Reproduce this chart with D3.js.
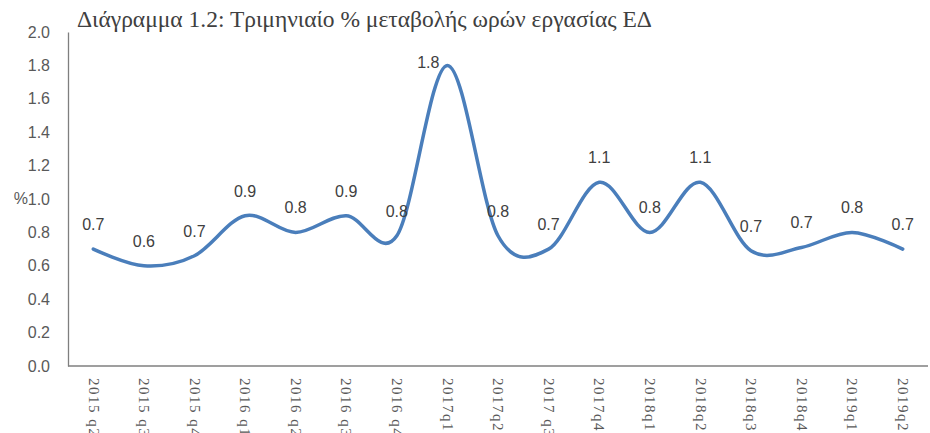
<!DOCTYPE html>
<html>
<head>
<meta charset="utf-8">
<script src="https://cdn.jsdelivr.net/npm/d3@7"></script>
<style>
  body { margin: 0; background: #fff; }
  svg { display: block; }
</style>
</head>
<body>
<div id="chart"></div>
<script>
const width = 930, height = 433;

// data
const quarters = ["2015 q2", "2015 q3", "2015 q4", "2016 q1", "2016 q2", "2016 q3", "2016 q4",
  "2017q1", "2017q2", "2017 q3", "2017q4", "2018q1", "2018q2", "2018q3", "2018q4", "2019q1", "2019q2"];
const hoursChange = [0.70, 0.60, 0.66, 0.90, 0.80, 0.90, 0.78, 1.80, 0.78, 0.70, 1.10, 0.80, 1.10, 0.69, 0.71, 0.80, 0.70];
const yTicks = [0, 0.2, 0.4, 0.6, 0.8, 1.0, 1.2, 1.4, 1.6, 1.8, 2.0];
const title = "Διάγραμμα 1.2: Τριμηνιαίο % μεταβολής ωρών εργασίας ΕΔ";

const margin = { left: 68, right: 2, top: 32, bottom: 67 };
const sans = "'Liberation Sans', Arial, sans-serif";
const serif = "'Liberation Serif', 'DejaVu Serif', serif";

let svg = d3.select("#chart")
  .append("svg")
  .attr("width", width)
  .attr("height", height);

let x = d3.scalePoint()
  .domain(quarters)
  .range([margin.left, width - margin.right])
  .padding(0.5);

let y = d3.scaleLinear()
  .domain([0, 2])
  .range([height - margin.bottom, margin.top]);

// title, squeezed to the reference width
let titleText = svg.append("text")
  .attr("x", 77)
  .attr("y", 27)
  .attr("fill", "#404040")
  .style("font-family", serif)
  .style("font-size", "18px")
  .text(title);
let tw = titleText.node().getComputedTextLength();
titleText.style("font-size", (18 * 575 / tw) + "px");

// y axis
let yAxis = svg.append("g")
  .attr("transform", "translate(" + margin.left + ",0)")
  .call(d3.axisLeft(y).tickValues(yTicks).tickSize(0).tickPadding(18).tickFormat(d3.format(".1f")));
yAxis.select(".domain").attr("stroke", "#7f7f7f").attr("stroke-width", 1.3);
yAxis.selectAll("text")
  .attr("fill", "#595959")
  .style("font-family", sans)
  .style("font-size", "16px");

svg.append("text")
  .attr("x", 28)
  .attr("y", y(1.0))
  .attr("dy", "0.32em")
  .attr("text-anchor", "end")
  .attr("fill", "#595959")
  .style("font-family", sans)
  .style("font-size", "16px")
  .text("%");

// x axis
let xAxis = svg.append("g")
  .attr("transform", "translate(0," + y(0) + ")")
  .call(d3.axisBottom(x).tickSize(0).tickSizeOuter(0));
xAxis.select(".domain").attr("stroke", "#7f7f7f").attr("stroke-width", 1.3)
  .attr("d", "M" + margin.left + ",0H" + (width - margin.right));
xAxis.selectAll("text")
  .attr("transform", "rotate(90)")
  .attr("x", 12)
  .attr("y", 0)
  .attr("dy", "0.35em")
  .attr("text-anchor", "start")
  .attr("fill", "#595959")
  .style("font-family", serif)
  .style("font-size", "15px")
  .style("letter-spacing", "1.5px");

// smoothed line
let line = d3.line()
  .x((d, i) => x(quarters[i]))
  .y((d) => y(d))
  .curve(d3.curveCatmullRom.alpha(0));

svg.append("path")
  .datum(hoursChange)
  .attr("fill", "none")
  .attr("stroke", "#4a7ebb")
  .attr("stroke-width", 3.5)
  .attr("stroke-linecap", "round")
  .attr("d", line);

// data labels
let maxVal = d3.max(hoursChange);
svg.append("g")
  .selectAll("text")
  .data(hoursChange)
  .enter().append("text")
  .attr("x", (d, i) => d === maxVal ? x(quarters[i]) - 8 : x(quarters[i]))
  .attr("y", (d) => d === maxVal ? y(d) + 3 : y(d) - 19)
  .attr("text-anchor", (d) => d === maxVal ? "end" : "middle")
  .attr("fill", "#404040")
  .style("font-family", sans)
  .style("font-size", "16px")
  .text((d) => d.toFixed(1));
</script>
</body>
</html>
